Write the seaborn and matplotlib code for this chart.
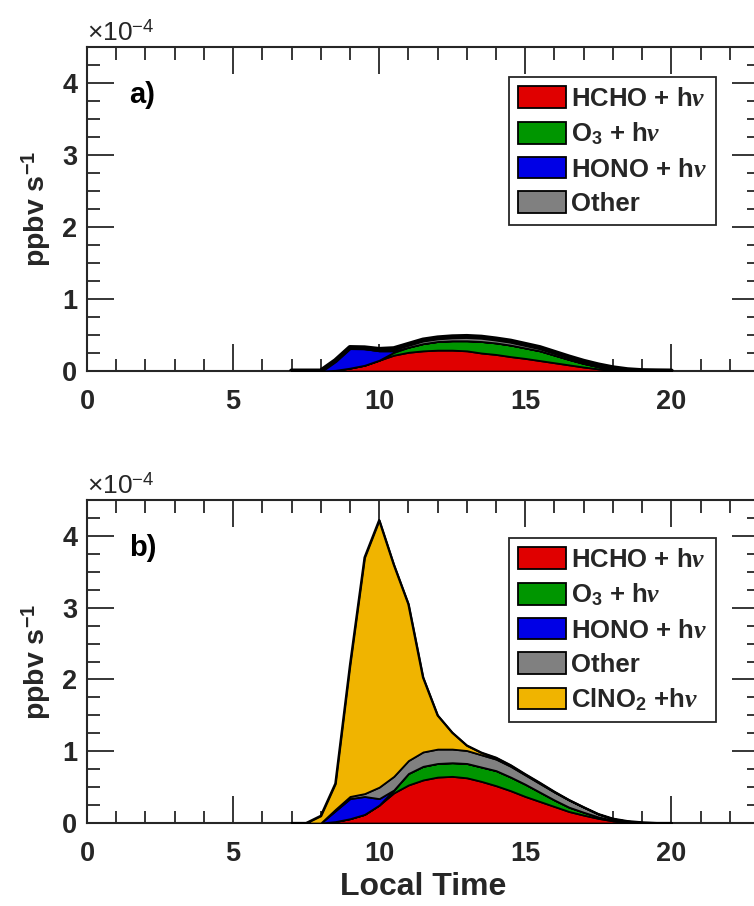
import matplotlib
matplotlib.use("Agg")
import matplotlib.pyplot as plt
from matplotlib.ticker import MultipleLocator
import pandas as pd
import seaborn as sns

# Local time (hours) at which the radical production rates are given
hours = [7.0, 7.5, 8.0, 8.5, 9.0, 9.5, 10.0, 10.5, 11.0, 11.5, 12.0, 12.5, 13.0,
         13.5, 14.0, 14.5, 15.0, 15.5, 16.0, 16.5, 17.0, 17.5, 18.0, 18.5, 19.0,
         19.5, 20.0]

# Panel a) production rates, units of 1e-4 ppbv s-1
a_hcho = [0, 0, 0, 0.01, 0.04, 0.08, 0.15, 0.22, 0.26, 0.28, 0.29, 0.29, 0.28,
          0.25, 0.23, 0.20, 0.175, 0.145, 0.115, 0.085, 0.055, 0.03, 0.015, 0.005, 0,
          0, 0]
a_o3 = [0, 0, 0, 0, 0, 0, 0, 0.04, 0.07, 0.10, 0.12, 0.13, 0.14,
        0.16, 0.16, 0.16, 0.145, 0.135, 0.105, 0.075, 0.05, 0.03, 0.01, 0.003, 0,
        0, 0]
a_hono = [0, 0, 0, 0.13, 0.28, 0.23, 0.13, 0.02, 0, 0, 0, 0, 0,
          0, 0, 0, 0, 0, 0, 0, 0, 0, 0, 0, 0,
          0, 0]
a_other = [0, 0, 0, 0.003, 0.006, 0.012, 0.02, 0.03, 0.04, 0.05, 0.05, 0.055, 0.06,
           0.06, 0.055, 0.055, 0.05, 0.045, 0.04, 0.035, 0.03, 0.025, 0.02, 0.01, 0.005,
           0.002, 0]

# Panel b) production rates including ClNO2 photolysis, units of 1e-4 ppbv s-1
b_hcho = [0, 0, 0, 0.02, 0.06, 0.12, 0.25, 0.42, 0.53, 0.60, 0.64, 0.65, 0.63,
          0.58, 0.52, 0.45, 0.37, 0.30, 0.23, 0.16, 0.11, 0.065, 0.03, 0.012, 0.004,
          0, 0]
b_o3 = [0, 0, 0, 0, 0, 0, 0, 0.04, 0.16, 0.19, 0.19, 0.19, 0.20,
        0.20, 0.21, 0.19, 0.17, 0.13, 0.09, 0.06, 0.04, 0.02, 0.01, 0.004, 0,
        0, 0]
b_hono = [0, 0, 0, 0.15, 0.28, 0.25, 0.09, 0, 0, 0, 0, 0, 0,
          0, 0, 0, 0, 0, 0, 0, 0, 0, 0, 0, 0,
          0, 0]
b_other = [0, 0, 0, 0.02, 0.03, 0.04, 0.16, 0.19, 0.18, 0.20, 0.20, 0.19, 0.18,
           0.17, 0.16, 0.15, 0.13, 0.12, 0.11, 0.10, 0.07, 0.04, 0.02, 0.01, 0.005,
           0, 0]
b_clno2 = [0, 0, 0.10, 0.36, 1.83, 3.29, 3.72, 2.95, 2.18, 1.04, 0.47, 0.23, 0.07,
           0.03, 0.02, 0.015, 0.01, 0.01, 0.005, 0, 0, 0, 0, 0, 0,
           0, 0]

labels = ["HCHO + h$\\nu$", "O$_\\mathbf{3}$ + h$\\nu$", "HONO + h$\\nu$", "Other",
          "ClNO$_\\mathbf{2}$ +h$\\nu$"]
colors = ["#E00000", "#009600", "#0000E6", "#808080", "#F0B400"]

panel_a = pd.DataFrame({"hours": hours, "HCHO": a_hcho, "O3": a_o3,
                        "HONO": a_hono, "Other": a_other})
panel_b = pd.DataFrame({"hours": hours, "HCHO": b_hcho, "O3": b_o3,
                        "HONO": b_hono, "Other": b_other, "ClNO2": b_clno2})

sns.set_theme(style="ticks")
plt.rcParams["font.family"] = ["Liberation Sans", "DejaVu Sans"]
plt.rcParams["font.weight"] = "bold"
plt.rcParams["mathtext.fontset"] = "custom"
plt.rcParams["mathtext.rm"] = "Liberation Sans"
plt.rcParams["mathtext.bf"] = "Liberation Sans:bold"
plt.rcParams["mathtext.it"] = "Liberation Serif:italic"

ink = "#262626"

fig = plt.figure(figsize=(7.54, 9.06), dpi=100)
ax_a = fig.add_axes([0.1154, 0.5905, 0.8912, 0.3576])
ax_b = fig.add_axes([0.1154, 0.0916, 0.8912, 0.3565])


def draw_panel(ax, df, series, tag, legend_top, outline_lw):
    polys = ax.stackplot(df["hours"], *[df[s] for s in series],
                         colors=colors[:len(series)], edgecolor="black",
                         linewidth=1.3, zorder=3)
    total = df[series].sum(axis=1)
    sns.lineplot(x=df["hours"], y=total, ax=ax, color="black", lw=outline_lw,
                 zorder=4, legend=False)

    ax.set_xlim(0, 23)
    ax.set_ylim(0, 4.5)
    ax.xaxis.set_major_locator(MultipleLocator(5))
    ax.xaxis.set_minor_locator(MultipleLocator(1))
    ax.yaxis.set_major_locator(MultipleLocator(1))
    ax.yaxis.set_minor_locator(MultipleLocator(0.25))
    ax.tick_params(which="both", direction="in", top=True, right=True,
                   color=ink, width=1.3, labelcolor=ink, labelsize=19.5)
    ax.tick_params(which="major", length=19.5)
    ax.tick_params(which="minor", length=9)
    ax.tick_params(axis="x", pad=13)
    ax.tick_params(axis="y", pad=7)
    for sp in ax.spines.values():
        sp.set_color(ink)
        sp.set_linewidth(1.5)

    ax.set_ylabel("ppbv s$^{\\mathbf{-1}}$", fontsize=20.5, fontweight="bold",
                  color=ink)
    ax.yaxis.set_label_coords(-0.05, 0.5)
    ax.set_xlabel("")

    ax.text(0.0, 1.02, "\u00d710$^{\\mathregular{-4}}$", transform=ax.transAxes,
            fontsize=19, fontweight="normal", color=ink, ha="left",
            va="baseline")
    ax.text(0.062, 0.852, tag, transform=ax.transAxes, fontsize=21,
            fontweight="bold", color="black", ha="left", va="center")

    leg = ax.legend(polys, labels[:len(series)], loc="upper right",
                    bbox_to_anchor=(0.936, legend_top), borderaxespad=0,
                    frameon=True, fancybox=False, edgecolor=ink, framealpha=1,
                    handlelength=1.85, handleheight=0.9, handletextpad=0.2,
                    labelspacing=0.38, borderpad=0.35,
                    prop={"size": 18.5, "weight": "bold"})
    leg.get_frame().set_linewidth(1.3)
    leg.set_zorder(10)


draw_panel(ax_a, panel_a, ["HCHO", "O3", "HONO", "Other"], "a)", 0.906, 3.6)
draw_panel(ax_b, panel_b, ["HCHO", "O3", "HONO", "Other", "ClNO2"], "b)", 0.881, 1.6)

ax_b.set_xlabel("Local Time", fontsize=23, fontweight="bold", color=ink)
ax_b.xaxis.set_label_coords(0.5, -0.152)

fig.savefig("out.png", dpi=100)
